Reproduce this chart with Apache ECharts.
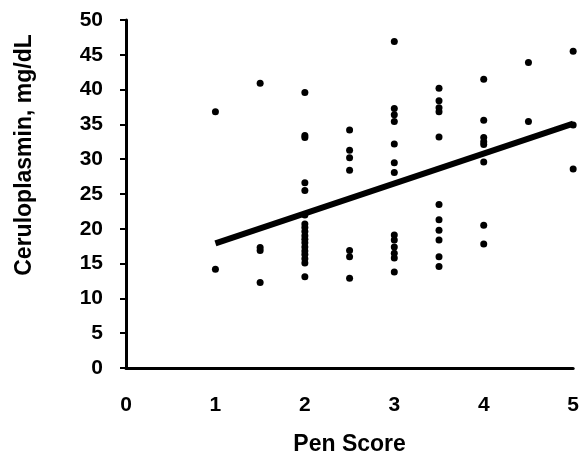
<!DOCTYPE html>
<html><head><meta charset="utf-8">
<script src="https://cdn.jsdelivr.net/npm/echarts@6/dist/echarts.min.js"></script>
<style>html,body{margin:0;padding:0;background:#fff}#c{width:582px;height:461px}</style>
</head><body><div id="c"></div>
<script>
// Pen scores and ceruloplasmin values grouped by score
var penScores = [1, 1.5, 2, 2.5, 3, 3.5, 4, 4.5, 5];
var ceruloplasmin = [
  [36.8, 14.2],
  [40.9, 17.3, 16.9, 12.3],
  [39.6, 33.4, 33.1, 26.6, 25.5, 22.0, 20.7, 20.2, 19.6, 19.0, 18.5, 18.0, 17.4, 16.8, 16.3, 15.7, 15.1, 13.1],
  [34.2, 31.3, 30.2, 28.4, 16.9, 16.0, 12.9],
  [46.9, 37.3, 36.4, 35.4, 32.2, 29.5, 28.1, 19.1, 18.4, 17.4, 16.5, 15.8, 13.8],
  [40.2, 38.4, 37.4, 36.8, 33.2, 23.5, 21.3, 19.8, 18.4, 16.0, 14.6],
  [41.5, 35.6, 33.1, 32.5, 32.1, 29.6, 20.5, 17.8],
  [43.9, 35.4],
  [45.5, 34.9, 28.6]
];
var trendX = [1, 5];
var trendY = [17.9, 35.1];
var xTicks = [0, 1, 2, 3, 4, 5];
var yTicks = [0, 5, 10, 15, 20, 25, 30, 35, 40, 45, 50];
var xTitle = 'Pen Score';
var yTitle = 'Ceruloplasmin, mg/dL';

var pts = [];
penScores.forEach(function (s, i) { ceruloplasmin[i].forEach(function (v) { pts.push([s, v]); }); });
var trend = trendX.map(function (x, i) { return [x, trendY[i]]; });

var font = 'Liberation Sans, Arial, sans-serif';
var chart = echarts.init(document.getElementById('c'));
chart.setOption({
  animation: false,
  grid: { left: 126, right: 8, top: 20, bottom: 88, containLabel: false },
  graphic: [{
    type: 'text', x: 25, y: 155, rotation: Math.PI / 2,
    style: { text: yTitle, fontFamily: font, fontWeight: 'bold', fontSize: 23, fill: '#000',
      align: 'center', verticalAlign: 'middle' }
  }],
  xAxis: {
    type: 'value', min: xTicks[0], max: xTicks[xTicks.length - 1], interval: 1,
    name: xTitle, nameLocation: 'middle', nameGap: 65,
    nameTextStyle: { fontFamily: font, fontWeight: 'bold', fontSize: 23, color: '#000' },
    axisLine: { show: true, onZero: false, lineStyle: { color: '#000', width: 3 } },
    axisTick: { show: false },
    axisLabel: { fontFamily: font, fontWeight: 'bold', fontSize: 21, color: '#000', margin: 27 },
    splitLine: { show: false }
  },
  yAxis: {
    type: 'value', min: yTicks[0], max: yTicks[yTicks.length - 1], interval: 5,
    axisLine: { show: true, onZero: false, lineStyle: { color: '#000', width: 3 } },
    axisTick: { show: true, inside: false, length: 6, lineStyle: { color: '#000', width: 2 } },
    axisLabel: { fontFamily: font, fontWeight: 'bold', fontSize: 21, color: '#000', margin: 23 },
    splitLine: { show: false }
  },
  series: [
    { type: 'scatter', data: pts, symbol: 'circle', symbolSize: 7,
      itemStyle: { color: '#000', opacity: 1 }, z: 3 },
    { type: 'line', data: trend, symbol: 'none', lineStyle: { color: '#000', width: 6 }, z: 4 }
  ]
});
</script></body></html>
